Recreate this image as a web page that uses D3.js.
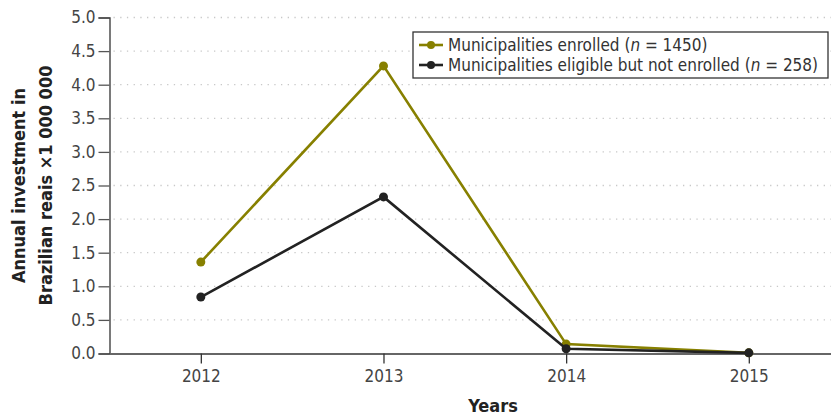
<!DOCTYPE html>
<html lang="en">
<head>
<meta charset="UTF-8">
<title>Annual investment</title>
<script src="https://cdnjs.cloudflare.com/ajax/libs/d3/7.8.5/d3.min.js"></script>
<style>
  body { margin: 0; background: #fff; }
  svg text { font-family: "DejaVu Sans Condensed", "DejaVu Sans", sans-serif; font-stretch: condensed; }
</style>
</head>
<body>
<div id="wrapper"></div>
<script>
const years = [2012, 2013, 2014, 2015];
const enrolled = [1.36, 4.28, 0.14, 0.01];
const notEnrolled = [0.84, 2.33, 0.07, 0.01];
const yTicks = [0, 0.5, 1, 1.5, 2, 2.5, 3, 3.5, 4, 4.5, 5];
const seriesNames = [
  ["Municipalities enrolled (", "n", " = 1450)"],
  ["Municipalities eligible but not enrolled (", "n", " = 258)"]
];

const width = 831, height = 419;
const margin = { top: 17.5, right: 0, bottom: 65.5, left: 109.5 };

const svg = d3.select("#wrapper").append("svg")
  .attr("width", width).attr("height", height);

const x = d3.scaleLinear()
  .domain([2011.5, 2015.45])
  .range([margin.left, width - margin.right]);
const y = d3.scaleLinear()
  .domain([0, 5])
  .range([height - margin.bottom, margin.top]);

// dotted grid
svg.append("g")
  .selectAll("line")
  .data(yTicks.filter(d => d > 0))
  .join("line")
  .attr("x1", margin.left + 4).attr("x2", width)
  .attr("y1", d => y(d)).attr("y2", d => y(d))
  .attr("stroke", "#c8c8c8")
  .attr("stroke-width", 1.3)
  .attr("stroke-dasharray", "1.3,5.4");

// y axis
const yAxis = svg.append("g")
  .attr("transform", `translate(${margin.left},0)`)
  .call(d3.axisLeft(y).tickValues(yTicks).tickFormat(d3.format(".1f")).tickSize(11).tickPadding(3));
yAxis.select(".domain").attr("stroke", "#333").attr("stroke-width", 1.3);
yAxis.selectAll(".tick line").attr("stroke", "#555").attr("stroke-width", 1.3);
yAxis.selectAll("text").attr("font-size", 17).attr("fill", "#444");

// x axis
const xAxis = svg.append("g")
  .attr("transform", `translate(0,${y(0)})`)
  .call(d3.axisBottom(x).tickValues(years).tickFormat(d3.format("d")).tickSize(10).tickSizeOuter(0).tickPadding(6));
xAxis.select(".domain").attr("stroke", "#666").attr("stroke-width", 2);
xAxis.selectAll(".tick line").attr("stroke", "#333").attr("stroke-width", 1.3);
xAxis.selectAll("text").attr("font-size", 17).attr("fill", "#444");

// axis titles
svg.append("text")
  .attr("x", x(2013.6)).attr("y", 412)
  .attr("text-anchor", "middle")
  .attr("font-size", 18).attr("font-weight", "bold").attr("fill", "#222")
  .text("Years");

const yTitle = svg.append("text")
  .attr("transform", `translate(25,${y(2.5)}) rotate(-90)`)
  .attr("text-anchor", "middle")
  .attr("font-size", 18).attr("font-weight", "bold").attr("fill", "#222");
yTitle.append("tspan").attr("x", 0).attr("dy", 0).text("Annual investment in");
yTitle.append("tspan").attr("x", 0).attr("dy", 27).text("Brazilian reais \u00d71 000 000");

// lines
const colors = ["#878000", "#222222"];
const series = [enrolled, notEnrolled];
const line = d3.line().x((d, i) => x(years[i])).y(d => y(d));

series.forEach((vals, k) => {
  svg.append("path")
    .datum(vals)
    .attr("fill", "none")
    .attr("stroke", colors[k])
    .attr("stroke-width", 2.6)
    .attr("d", line);
  svg.append("g")
    .selectAll("circle")
    .data(vals)
    .join("circle")
    .attr("cx", (d, i) => x(years[i]))
    .attr("cy", d => y(d))
    .attr("r", 4.5)
    .attr("fill", colors[k]);
});

// legend
const lg = svg.append("g").attr("transform", "translate(413,32)");
lg.append("rect")
  .attr("width", 415).attr("height", 46)
  .attr("fill", "#fff").attr("stroke", "#333").attr("stroke-width", 1.3);
seriesNames.forEach((parts, k) => {
  const ly = 13 + k * 20;
  lg.append("line")
    .attr("x1", 6).attr("x2", 30).attr("y1", ly).attr("y2", ly)
    .attr("stroke", colors[k]).attr("stroke-width", 2.6);
  lg.append("circle").attr("cx", 18).attr("cy", ly).attr("r", 4).attr("fill", colors[k]);
  const t = lg.append("text")
    .attr("x", 35).attr("y", ly + 6)
    .attr("font-size", 17).attr("fill", "#333");
  t.append("tspan").text(parts[0]);
  t.append("tspan").attr("font-style", "italic").text(parts[1]);
  t.append("tspan").text(parts[2]);
});
</script>
</body>
</html>
